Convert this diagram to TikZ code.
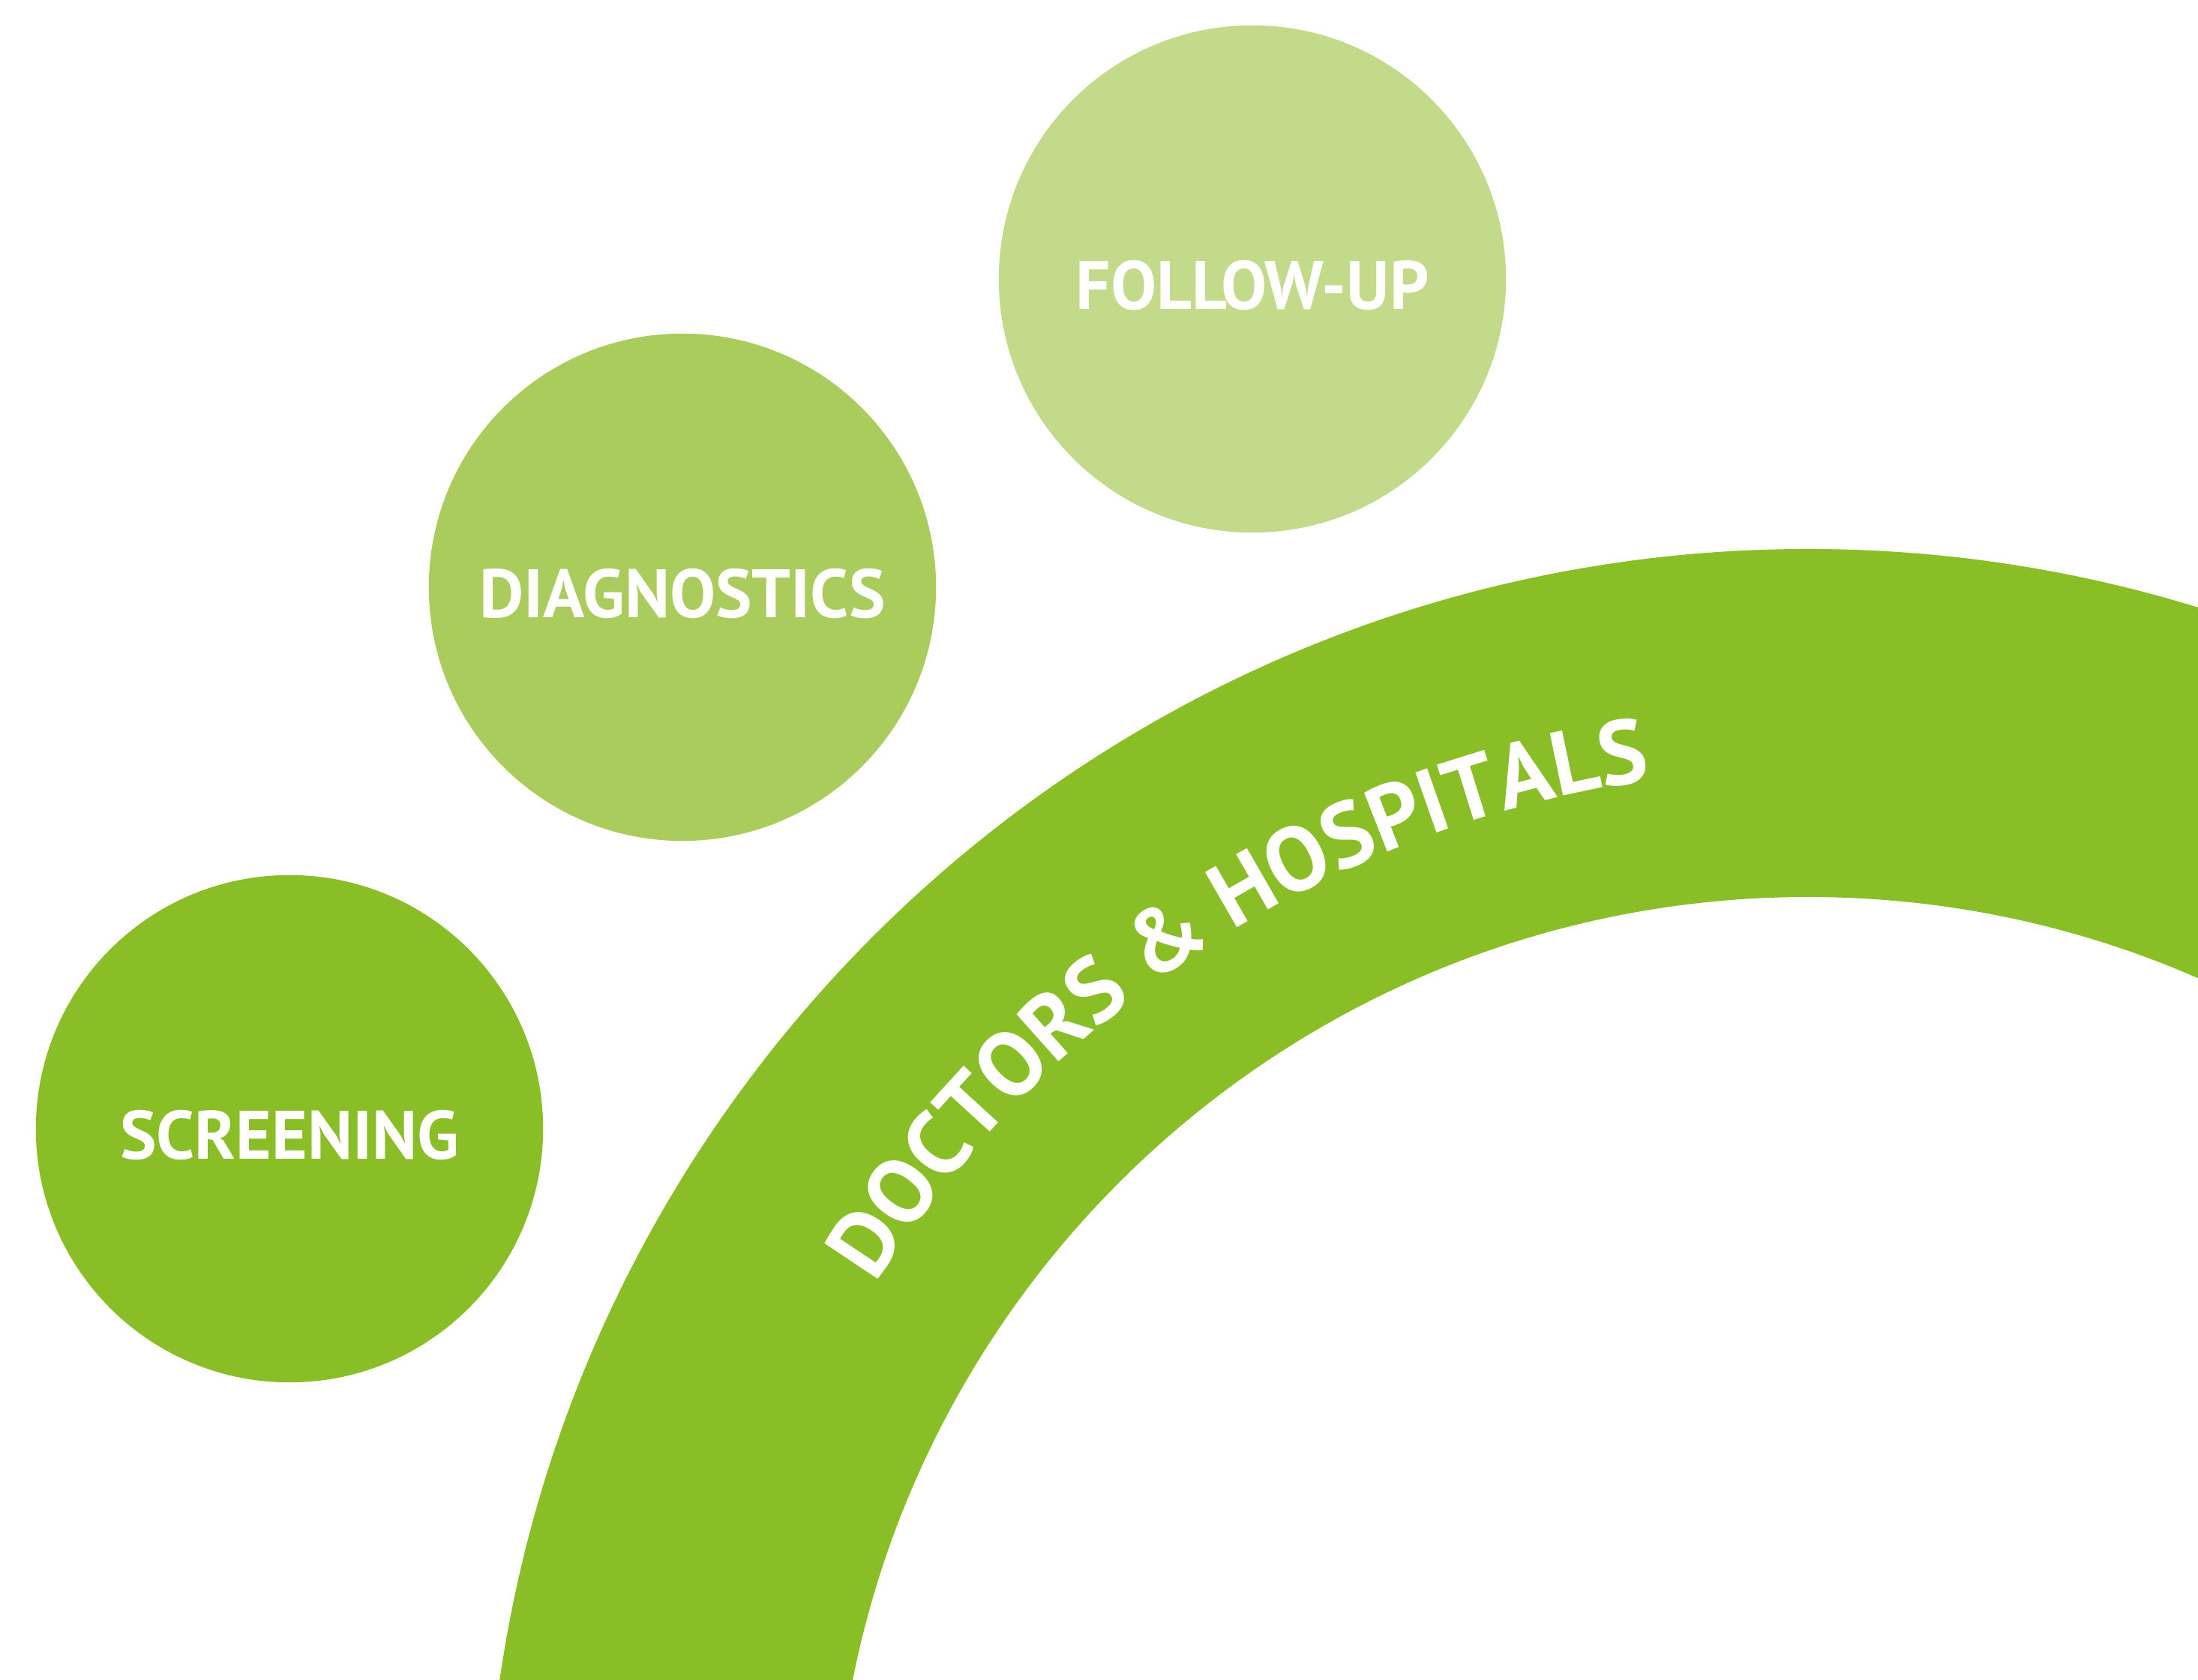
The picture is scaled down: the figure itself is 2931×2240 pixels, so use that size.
\documentclass[tikz,border=0pt]{standalone}
\usepackage{fontspec}
\setmainfont{PT Sans}
\usepackage{tikz}
\usetikzlibrary{decorations.text}

\definecolor{ringgreen}{RGB}{137,190,39}
\definecolor{screengreen}{RGB}{137,190,39}
\definecolor{diaggreen}{RGB}{170,204,92}
\definecolor{followgreen}{RGB}{195,218,138}

\begin{document}
\begin{tikzpicture}[
    x=0.01cm, y=0.01cm,
    stage/.style={circle, minimum size=6.76cm, inner sep=0pt, text=white, text height=23pt, text depth=0pt,
        font=\bfseries\fontsize{26}{26}\selectfont},
    screen/.style={stage, fill=screengreen},
    diag/.style={stage, fill=diaggreen},
    follow/.style={stage, fill=followgreen}
]
    \useasboundingbox (0,0) rectangle (2931,2240);

    % the big ring, cut by the page
    \coordinate (hub) at (2411,-255);
    \begin{scope}
        \clip (0,0) rectangle (2931,2240);
        \fill[ringgreen, even odd rule] (hub) circle[radius=1763] (hub) circle[radius=1299];
    \end{scope}
    \path[decorate, decoration={text along path, text align=center, text color=white,
        text={|\bfseries\fontsize{34.5}{34.5}\selectfont|DOCTORS {\&} HOSPITALS}}]
        ([shift={(153:1470)}]hub) arc[start angle=153, end angle=93, radius=1470];

    % the three stages
    \node[screen] (screening) at (386,735) {SCREENING};
    \node[diag] (diagnostics) at (910,1457) {DIAGNOSTICS};
    \node[follow] (followup) at (1670,1868) {FOLLOW-UP};
\end{tikzpicture}
\end{document}
